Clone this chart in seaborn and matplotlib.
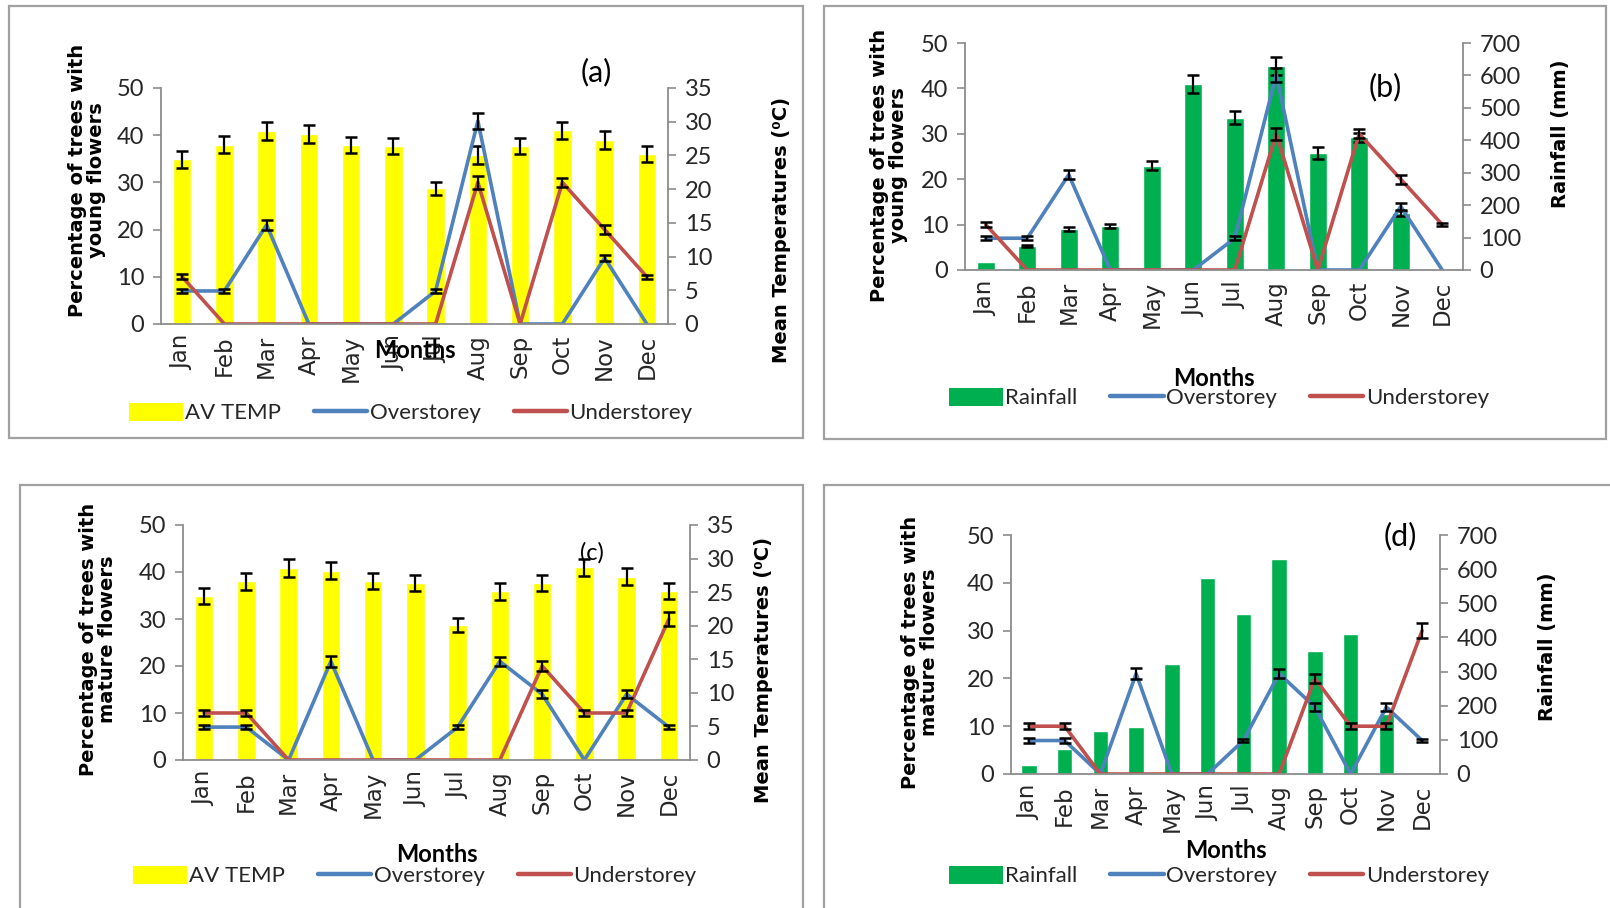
import numpy as np
import matplotlib
matplotlib.use("Agg")
import matplotlib.pyplot as plt
from matplotlib import font_manager
from matplotlib.patches import Rectangle, Patch
from matplotlib.lines import Line2D
import seaborn as sns

# === DATA ===
months = ["Jan", "Feb", "Mar", "Apr", "May", "Jun", "Jul", "Aug", "Sep", "Oct", "Nov", "Dec"]

av_temp = [24.4, 26.6, 28.6, 28.2, 26.6, 26.4, 20.1, 25.1, 26.4, 28.7, 27.3, 25.2]
av_temp_err = [1.2, 1.3, 1.3, 1.3, 1.2, 1.2, 1.0, 1.3, 1.2, 1.3, 1.3, 1.2]

rainfall = [25, 74, 126, 137, 322, 574, 470, 630, 360, 410, 175, 4]
rainfall_err = [0, 3, 7, 6, 14, 28, 21, 28, 18, 14, 7, 0]

young_over = [7, 7, 21, 0, 0, 0, 7, 43, 0, 0, 14, 0]
young_over_err = [0.5, 0.5, 1.0, 0, 0, 0, 0.4, 1.6, 0, 0, 0.7, 0]
young_under = [10, 0, 0, 0, 0, 0, 0, 30, 0, 30, 20, 10]
young_under_err = [0.5, 0, 0, 0, 0, 0, 0, 1.3, 0, 1.0, 1.0, 0.4]

mature_over = [7, 7, 0, 21, 0, 0, 7, 21, 14, 0, 14, 7]
mature_over_err = [0.5, 0.5, 0, 1.2, 0, 0, 0.4, 1.0, 0.8, 0, 0.8, 0.4]
mature_under = [10, 10, 0, 0, 0, 0, 0, 0, 20, 10, 10, 30]
mature_under_err = [0.6, 0.6, 0, 0, 0, 0, 0, 0, 1.0, 0.6, 0.6, 1.5]

# === STYLE ===
sns.set_style("white")
installed = {f.name for f in font_manager.fontManager.ttflist}


def pick(*names):
    return [n for n in names if n in installed] + ["DejaVu Sans"]


NARROW = pick("Liberation Sans Narrow", "Lato")
plt.rcParams["font.family"] = NARROW

W, H = 1610, 908
YELLOW = "#FFFF00"
GREEN = "#00B050"
BLUE = "#4F81BD"
RED = "#C0504D"
GRAY = "#8C8C8C"
TXT = "#262626"


def px_rect(l, t, r, b):
    return [l / W, 1 - b / H, (r - l) / W, (b - t) / H]


def fx(x):
    return x / W


def fy(y):
    return 1 - y / H


fig = plt.figure(figsize=(W / 100, H / 100), dpi=100)

# panel frames
for (l, t, r, b) in [(9, 6, 803, 438), (824, 6, 1606, 439), (20, 485, 803, 912), (824, 485, 1612, 912)]:
    fig.add_artist(Rectangle((fx(l), fy(b)), (r - l) / W, (b - t) / H,
                             transform=fig.transFigure, fill=False,
                             edgecolor="#A0A0A0", linewidth=1.6))

panels = [
    dict(rect=(161, 88, 668, 324), bars=av_temp, bar_err=av_temp_err, bar_col=YELLOW, bar_lim=35, bar_step=5,
         over=young_over, over_err=young_over_err, under=young_under, under_err=young_under_err,
         ylab="Percentage of trees with\nyoung flowers", ylab_xy=(87, 180),
         rlab="Mean Temperatures (\u2070C)", rlab_xy=(781, 230),
         tag="(a)", tag_xy=(596, 72), tag_size=22, months_y=350,
         bar_name="AV TEMP", leg_xy=(411, 413)),
    dict(rect=(965, 43, 1463, 270), bars=rainfall, bar_err=rainfall_err, bar_col=GREEN, bar_lim=700, bar_step=100,
         over=young_over, over_err=young_over_err, under=young_under, under_err=young_under_err,
         ylab="Percentage of trees with\nyoung flowers", ylab_xy=(889, 165),
         rlab="Rainfall (mm)", rlab_xy=(1560, 134),
         tag="(b)", tag_xy=(1385, 87), tag_size=22, months_y=378,
         bar_name="Rainfall", leg_xy=(1219, 398)),
    dict(rect=(183, 525, 690, 760), bars=av_temp, bar_err=av_temp_err, bar_col=YELLOW, bar_lim=35, bar_step=5,
         over=mature_over, over_err=mature_over_err, under=mature_under, under_err=mature_under_err,
         ylab="Percentage of trees with\nmature flowers", ylab_xy=(98, 639),
         rlab="Mean Temperatures (\u2070C)", rlab_xy=(763, 670),
         tag="(c)", tag_xy=(592, 553), tag_size=17, months_y=855,
         bar_name="AV TEMP", leg_xy=(415, 876)),
    dict(rect=(1011, 535, 1440, 774), bars=rainfall, bar_err=None, bar_col=GREEN, bar_lim=700, bar_step=100,
         over=mature_over, over_err=mature_over_err, under=mature_under, under_err=mature_under_err,
         ylab="Percentage of trees with\nmature flowers", ylab_xy=(920, 652),
         rlab="Rainfall (mm)", rlab_xy=(1547, 647),
         tag="(d)", tag_xy=(1400, 536), tag_size=22, months_y=851,
         bar_name="Rainfall", leg_xy=(1219, 876)),
]

x_pos = np.arange(len(months))

for p in panels:
    ax = fig.add_axes(px_rect(*p["rect"]))
    ax2 = ax.twinx()
    ax.set_zorder(ax2.get_zorder() + 1)
    ax.patch.set_visible(False)

    # bars on the secondary axis
    sns.barplot(x=x_pos, y=p["bars"], ax=ax2, color=p["bar_col"], width=0.44,
                saturation=1, errorbar=None, native_scale=True)
    if p["bar_err"] is not None:
        e = np.array(p["bar_err"], dtype=float)
        m = e > 0
        ax2.errorbar(x_pos[m], np.array(p["bars"])[m], yerr=e[m], fmt="none",
                     ecolor="black", elinewidth=1.6, capsize=4.5, capthick=1.8)

    # percentage lines on the primary axis
    sns.lineplot(x=x_pos, y=p["over"], ax=ax, color=BLUE, linewidth=2.6)
    sns.lineplot(x=x_pos, y=p["under"], ax=ax, color=RED, linewidth=2.6)
    for vals, errs in [(p["over"], p["over_err"]), (p["under"], p["under_err"])]:
        e = np.array(errs, dtype=float)
        m = e > 0
        ax.errorbar(x_pos[m], np.array(vals)[m], yerr=e[m], fmt="none",
                    ecolor="black", elinewidth=1.6, capsize=4.5, capthick=1.8)

    ax.set_xlim(-0.5, 11.5)
    ax.set_ylim(0, 50)
    ax2.set_ylim(0, p["bar_lim"])
    ax.set_yticks(range(0, 51, 10))
    ax2.set_yticks(range(0, p["bar_lim"] + 1, p["bar_step"]))

    ax.set_xticks(x_pos)
    ax.set_xticklabels(months, rotation=90, color=TXT)
    ax.set_xticks(np.arange(-0.5, 12, 1), minor=True)
    ax.tick_params(axis="x", which="major", length=0, pad=8, labelsize=16.5,
                   labelfontfamily="DejaVu Sans")
    ax.tick_params(axis="x", which="minor", length=7, width=1.2, color=GRAY, direction="out")
    ax.tick_params(axis="y", length=6, width=1.2, color=GRAY, direction="out", labelsize=17,
                   labelcolor=TXT, pad=6)
    ax2.tick_params(axis="y", length=6, width=1.2, color=GRAY, direction="out", labelsize=17,
                    labelcolor=TXT, pad=6)
    ax2.tick_params(axis="x", which="both", labelbottom=False, bottom=False)
    ax.set_xlabel("")
    ax.set_ylabel("")
    ax2.set_ylabel("")

    for s in ["top", "right"]:
        ax.spines[s].set_visible(False)
    for s in ["top", "left", "bottom"]:
        ax2.spines[s].set_visible(False)
    for s in ["left", "bottom"]:
        ax.spines[s].set_color(GRAY)
        ax.spines[s].set_linewidth(1.3)
    ax2.spines["right"].set_color(GRAY)
    ax2.spines["right"].set_linewidth(1.3)

    l, t, r, b = p["rect"]
    fig.text(fx(p["ylab_xy"][0]), fy(p["ylab_xy"][1]), p["ylab"], rotation=90, ha="center", va="center",
             fontsize=14, fontweight="bold", fontfamily="DejaVu Sans", color="black", linespacing=1.05)
    fig.text(fx(p["rlab_xy"][0]), fy(p["rlab_xy"][1]), p["rlab"], rotation=90, ha="center", va="center",
             fontsize=14, fontweight="bold", fontfamily="DejaVu Sans", color="black")
    fig.text(fx((l + r) / 2), fy(p["months_y"]), "Months", ha="center", va="center",
             fontsize=17, fontweight="bold", family=NARROW, color="black")
    fig.text(fx(p["tag_xy"][0]), fy(p["tag_xy"][1]), p["tag"], ha="center", va="center",
             fontsize=p["tag_size"], family=NARROW, color="black")

    handles = [Patch(facecolor=p["bar_col"], edgecolor="none"),
               Line2D([], [], color=BLUE, linewidth=3.2),
               Line2D([], [], color=RED, linewidth=3.2)]
    fig.legend(handles, [p["bar_name"], "Overstorey", "Understorey"], loc="center",
               bbox_to_anchor=(fx(p["leg_xy"][0]), fy(p["leg_xy"][1])), ncol=3, frameon=False,
               prop={"family": NARROW, "size": 16}, handlelength=2.4, handleheight=0.9,
               handletextpad=0.1, columnspacing=1.5, labelcolor=TXT)

fig.savefig("out.png", dpi=100)
